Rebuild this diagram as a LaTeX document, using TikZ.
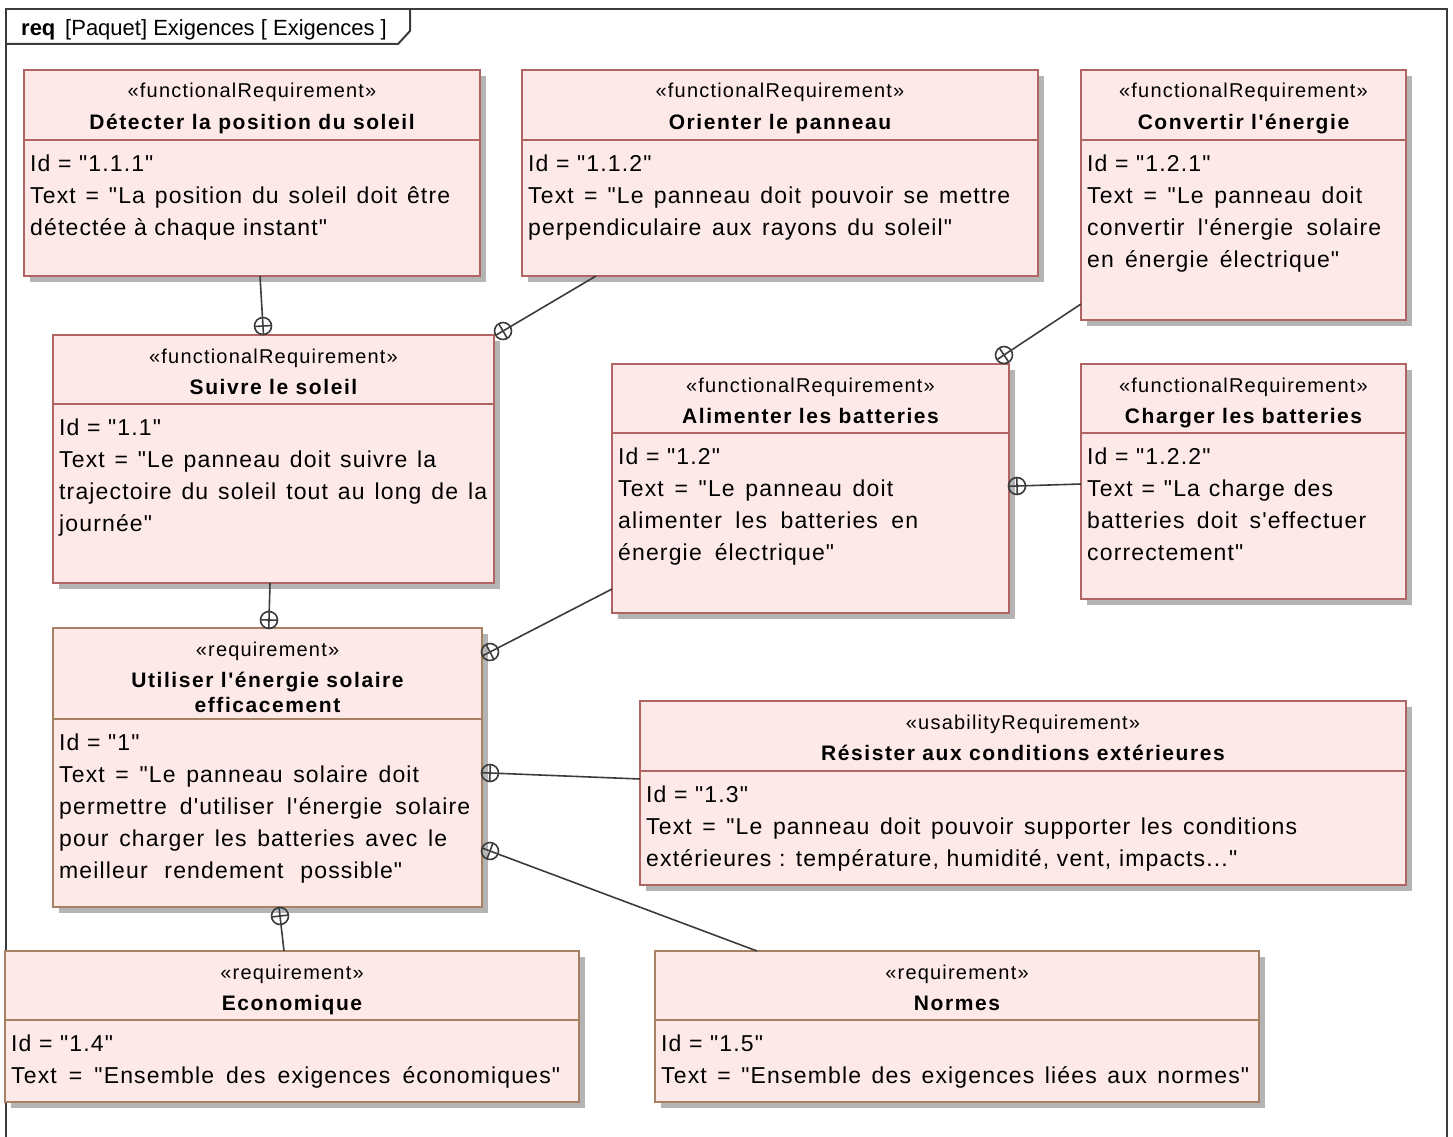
\documentclass[tikz,border=0pt]{standalone}
\usepackage{fontspec}
\newfontfamily\arial{Liberation Sans}
\newfontfamily\bodyf{Liberation Sans}[LetterSpace=5]
\newfontfamily\stf{Liberation Sans}[LetterSpace=6]
\newfontfamily\titf{Liberation Sans}[LetterSpace=7.5]
\usetikzlibrary{calc}
\definecolor{boxfill}{RGB}{253,233,231}
\definecolor{funcb}{RGB}{176,100,100}
\definecolor{reqb}{RGB}{168,128,100}
\definecolor{shad}{RGB}{180,180,180}
\definecolor{linec}{RGB}{60,60,60}
\def\bcol{funcb}
\newcommand\jl[2]{\makebox[#1pt][s]{#2}}
\newcommand\ReqBox[9]{%
  \fill[shad] (#2+6,#3+6) rectangle (#4+6,#5+6);
  \node[boxst, minimum width=#4-#2, minimum height=#5-#3, anchor=north west] (#1) at (#2,#3) {};
  \draw[draw=\bcol, line width=1.2pt] (#2,#6) -- (#4,#6);
  \node[stereo, anchor=base] (#1-st) at ({(#2+#4)/2},#3+28) {«#7»};
  \node[titlest, anchor=base] (#1-ti) at ({(#2+#4)/2},#3+59) {#8};
  \node[bodyst, anchor=north west] (#1-bd) at (#2+6,#6+8.6) {\strut#9};
}
\newcommand\Conn[2]{%
  \draw[conn] (#1) -- ($(#2)!-8.5pt!(#1)$);
  \draw[conn] (#2) circle (8.5pt);
  \draw[conn] ($(#2)!8.5pt!90:(#1)$) -- ($(#2)!8.5pt!-90:(#1)$);
}
\begin{document}
\begin{tikzpicture}[x=1pt,y=-1pt,
  boxst/.style={draw=\bcol, fill=boxfill, line width=1.8pt, inner sep=0pt, outer sep=0pt},
  stereo/.style={font=\stf\fontsize{20}{22}\selectfont, inner sep=0pt},
  titlest/.style={font=\titf\bfseries\fontsize{21}{24}\selectfont, inner sep=0pt},
  bodyst/.style={font=\bodyf\fontsize{23}{32}\selectfont, align=left, inner sep=0pt},
  conn/.style={draw=linec, line width=1.6pt},
  framest/.style={draw=linec, line width=2pt}]
\useasboundingbox (0,0) rectangle (1453,1137);
% frame
\draw[framest] (6,1145) -- (6,9) -- (1447,9) -- (1447,1145);
\draw[framest] (6,44) -- (398,44) -- (410,31) -- (410,9);
\node[anchor=base west, inner sep=0pt, font=\arial\fontsize{22}{24}\selectfont] (hdr) at (21,36) {\textbf{req}\, [Paquet] Exigences [ Exigences ]};
% boxes
\def\bcol{funcb}
\ReqBox{det}{24}{70}{480}{276}{140}{functionalRequirement}{Détecter la position du soleil}{Id = "1.1.1"\\\jl{420}{Text = "La position du soleil doit être}\\détectée à chaque instant"}
\ReqBox{ori}{522}{70}{1038}{276}{140}{functionalRequirement}{Orienter le panneau}{Id = "1.1.2"\\\jl{482}{Text = "Le panneau doit pouvoir se mettre}\\\jl{424}{perpendiculaire aux rayons du soleil"}}
\ReqBox{con}{1081}{70}{1406}{320}{140}{functionalRequirement}{Convertir l'énergie}{Id = "1.2.1"\\\jl{275}{Text = "Le panneau doit}\\\jl{294}{convertir l'énergie solaire}\\\jl{252}{en énergie électrique"}}
\ReqBox{sui}{53}{335}{494}{583}{404}{functionalRequirement}{Suivre le soleil}{Id = "1.1"\\\jl{377}{Text = "Le panneau doit suivre la}\\\jl{428}{trajectoire du soleil tout au long de la}\\journée"}
\ReqBox{ali}{612}{364}{1009}{613}{433}{functionalRequirement}{Alimenter les batteries}{Id = "1.2"\\\jl{275}{Text = "Le panneau doit}\\\jl{300}{alimenter les batteries en}\\\jl{216}{énergie électrique"}}
\ReqBox{cha}{1081}{364}{1406}{599}{433}{functionalRequirement}{Charger les batteries}{Id = "1.2.2"\\\jl{246}{Text = "La charge des}\\\jl{279}{batteries doit s'effectuer}\\correctement"}
\ReqBox{res}{640}{701}{1406}{885}{771}{usabilityRequirement}{Résister aux conditions extérieures}{Id = "1.3"\\\jl{651}{Text = "Le panneau doit pouvoir supporter les conditions}\\\jl{591}{extérieures : température, humidité, vent, impacts..."}}
\def\bcol{reqb}
\ReqBox{uti}{53}{628}{482}{907}{719}{requirement}{Utiliser l'énergie solaire}{Id = "1"\\\jl{360}{Text = "Le panneau solaire doit}\\\jl{411}{permettre d'utiliser l'énergie solaire}\\\jl{388}{pour charger les batteries avec le}\\\jl{343}{meilleur rendement possible"}}
\node[titlest, anchor=base] (uti-ti2) at (267.5,712) {efficacement};
\ReqBox{eco}{5}{951}{579}{1102}{1020}{requirement}{Economique}{Id = "1.4"\\\jl{549}{Text = "Ensemble des exigences économiques"}}
\ReqBox{nor}{655}{951}{1259}{1102}{1020}{requirement}{Normes}{Id = "1.5"\\\jl{588}{Text = "Ensemble des exigences liées aux normes"}}
% connector points
\coordinate (det-o) at (260,276);  \coordinate (sui-i1) at (263,326);
\coordinate (ori-o) at (596,276);  \coordinate (sui-i2) at (503,331);
\coordinate (con-o) at (1081,304); \coordinate (ali-i1) at (1004,355);
\coordinate (cha-o) at (1081,484); \coordinate (ali-i2) at (1017,486);
\coordinate (sui-o) at (270,583);  \coordinate (uti-i1) at (269,620);
\coordinate (ali-o) at (612,589);  \coordinate (uti-i2) at (490,652);
\coordinate (res-o) at (640,779);  \coordinate (uti-i3) at (490,773);
\coordinate (nor-o) at (757,951);  \coordinate (uti-i4) at (490,851);
\coordinate (eco-o) at (284,951);  \coordinate (uti-i5) at (280,916);
\Conn{det-o}{sui-i1}
\Conn{ori-o}{sui-i2}
\Conn{con-o}{ali-i1}
\Conn{cha-o}{ali-i2}
\Conn{sui-o}{uti-i1}
\Conn{ali-o}{uti-i2}
\Conn{res-o}{uti-i3}
\Conn{nor-o}{uti-i4}
\Conn{eco-o}{uti-i5}
\end{tikzpicture}
\end{document}
